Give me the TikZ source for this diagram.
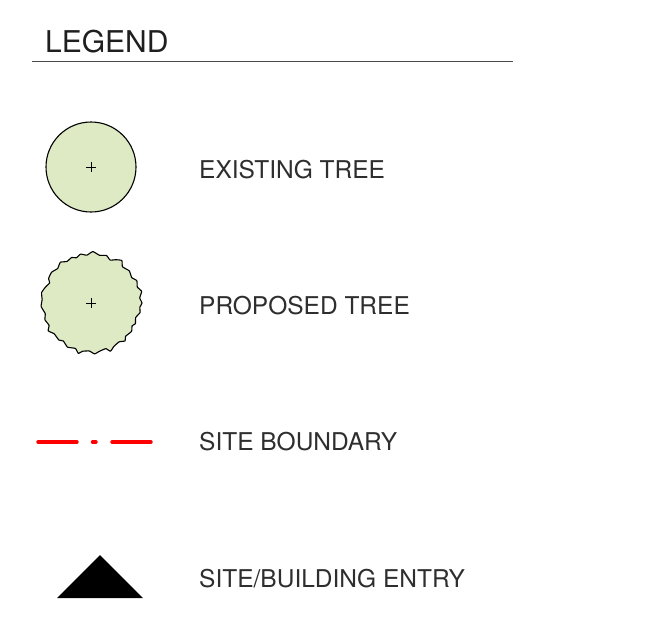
\documentclass[tikz,border=0pt]{standalone}
\usepackage{fontspec}
\setmainfont{TeX Gyre Heros}
\usetikzlibrary{calc}
\definecolor{treefill}{RGB}{221,234,196}
\definecolor{siteRed}{RGB}{255,0,0}
\tikzset{
  lbl/.style={anchor=base west, inner sep=0pt, font=\fontsize{24.5}{29}\selectfont, text=black!82},
  tree/.style={draw=black, line width=1.1pt, fill=treefill},
  crossmark/.style={draw=black, line width=0.6pt},
  bound/.style={draw=siteRed, line width=3.4pt, line cap=round}
}
\begin{document}
\begin{tikzpicture}[x=1pt,y=-1pt]
\useasboundingbox (0,0) rectangle (669,630);
% title
\node[anchor=base west, inner sep=0pt, font=\fontsize{30}{34}\selectfont, text=black!88] (title) at (45,52) {LEGEND};
\coordinate (rl) at (32,61);
\coordinate (rr) at (513,61);
\draw[black!70, line width=1pt] (rl) -- (rr);
% existing tree
\node[tree, circle, minimum size=90pt, inner sep=0pt] (ext) at (91,167) {};
\draw[crossmark] ([xshift=-5pt]ext.center) -- ([xshift=5pt]ext.center) ([yshift=-5pt]ext.center) -- ([yshift=5pt]ext.center);
\node[lbl] (extl) at (199,178.5) {EXISTING TREE};
% proposed tree
\coordinate (pt) at (91,303);
\draw[tree, line join=round] plot[smooth cycle, tension=0.25] coordinates {
 ($(pt)+(0:51)$) ($(pt)+(5:49)$) ($(pt)+(11:50)$) ($(pt)+(18:47)$) ($(pt)+(25:49)$) ($(pt)+(29:47)$)
 ($(pt)+(35:49.5)$) ($(pt)+(44:48)$) ($(pt)+(48:51)$) ($(pt)+(54:48)$) ($(pt)+(62:49)$) ($(pt)+(68:52)$)
 ($(pt)+(72:48)$) ($(pt)+(80:49)$) ($(pt)+(86:51)$) ($(pt)+(92:48)$) ($(pt)+(100:49)$) ($(pt)+(104:52)$)
 ($(pt)+(109:48)$) ($(pt)+(118:50)$) ($(pt)+(126:47)$) ($(pt)+(131:49)$) ($(pt)+(140:48)$) ($(pt)+(147:51)$)
 ($(pt)+(152:47.5)$) ($(pt)+(160:49)$) ($(pt)+(167:47)$) ($(pt)+(176:50)$) ($(pt)+(184:49)$) ($(pt)+(192:50.5)$)
 ($(pt)+(200:48)$) ($(pt)+(206:46)$) ($(pt)+(210:49)$) ($(pt)+(218:50)$) ($(pt)+(226:48)$) ($(pt)+(233:51)$)
 ($(pt)+(240:48)$) ($(pt)+(247:49.5)$) ($(pt)+(252:47.5)$) ($(pt)+(258:50)$) ($(pt)+(265:48)$) ($(pt)+(272:51.5)$)
 ($(pt)+(280:48.5)$) ($(pt)+(288:50)$) ($(pt)+(294:47)$) ($(pt)+(300:50)$) ($(pt)+(306:52.5)$) ($(pt)+(311:48)$)
 ($(pt)+(320:50)$) ($(pt)+(328:48)$) ($(pt)+(334:51)$) ($(pt)+(341:49)$) ($(pt)+(347:52)$) ($(pt)+(354:49)$)
};
\draw[crossmark] ([xshift=-5pt]pt) -- ([xshift=5pt]pt) ([yshift=-5pt]pt) -- ([yshift=5pt]pt);
\node[lbl] (prol) at (199,314.5) {PROPOSED TREE};
% site boundary
\coordinate (b1) at (38,442);
\coordinate (b2) at (77,442);
\coordinate (b3) at (92.5,442);
\coordinate (b4) at (96,442);
\coordinate (b5) at (112,442);
\coordinate (b6) at (151,442);
\draw[bound] (b1) -- (b2) (b3) -- (b4) (b5) -- (b6);
\node[lbl] (sbl) at (199,450.5) {SITE BOUNDARY};
% entry
\coordinate (t1) at (57,598);
\coordinate (t2) at (100,555);
\coordinate (t3) at (143,598);
\fill[black] (t1) -- (t2) -- (t3) -- cycle;
\node[lbl] (entl) at (199,587) {SITE/BUILDING ENTRY};
\end{tikzpicture}
\end{document}
